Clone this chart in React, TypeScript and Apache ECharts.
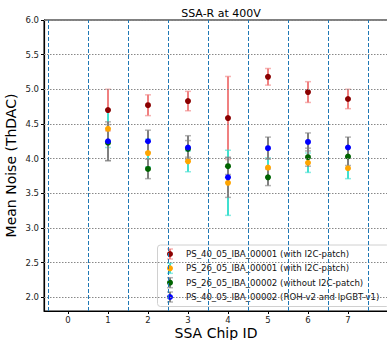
import React, { useEffect, useRef } from "react";
import * as echarts from "echarts";

const chips = [1, 2, 3, 4, 5, 6, 7];
const seriesNames = [
  "PS_40_05_IBA_00001 (with I2C-patch)",
  "PS_26_05_IBA_00001 (with I2C-patch)",
  "PS_26_05_IBA_00002 (without I2C-patch)",
  "PS_40_05_IBA_00002 (ROH-v2 and lpGBT-v1)",
];
const mean40_1 = [4.70, 4.77, 4.83, 4.585, 5.18, 4.96, 4.86];
const err40_1 = [0.30, 0.15, 0.14, 0.6, 0.12, 0.15, 0.14];
const mean26_1 = [4.43, 4.08, 3.96, 3.65, 3.87, 3.94, 3.86];
const err26_1 = [0.27, 0.2, 0.15, 0.47, 0.14, 0.14, 0.15];
const mean26_2 = [4.23, 3.85, 4.14, 3.89, 3.73, 4.02, 4.03];
const err26_2 = [0.26, 0.14, 0.12, 0.12, 0.12, 0.13, 0.13];
const mean40_2 = [4.25, 4.25, 4.16, 3.73, 4.15, 4.24, 4.16];
const err40_2 = [0.28, 0.16, 0.17, 0.29, 0.16, 0.13, 0.15];
const markerColors = ["#8b0000", "#ffa500", "#006400", "#0000ff"];
const errColors = ["#f08080", "#40e0d0", "#808080", "#808080"];
const yTicks = [2.0, 2.5, 3.0, 3.5, 4.0, 4.5, 5.0, 5.5, 6.0];
const xTicks = [0, 1, 2, 3, 4, 5, 6, 7];
const xDividers = [-0.5, 0.5, 1.5, 2.5, 3.5, 4.5, 5.5, 6.5, 7.5];

const FONT = "DejaVu Sans";

export default function App() {
  const ref = useRef<HTMLDivElement>(null);
  useEffect(() => {
    const chart = echarts.init(ref.current!, null, { renderer: "svg" });
    const means = [mean40_1, mean26_1, mean26_2, mean40_2];
    const errs = [err40_1, err26_1, err26_2, err40_2];
    const series: any[] = [
      {
        type: "line",
        data: [],
        silent: true,
        markLine: {
          silent: true,
          symbol: "none",
          label: { show: false },
          animation: false,
          data: [
            ...yTicks.map((v) => ({
              yAxis: v,
              lineStyle: { color: "#888", type: [1.5, 1.5], width: 1 },
            })),
            ...xDividers.map((v) => ({
              xAxis: v,
              lineStyle: { color: "#1f77b4", type: [4, 2], width: 1 },
            })),
          ],
        },
      },
    ];
    means.forEach((m, si) => {
      series.push({
        type: "custom",
        name: seriesNames[si] + " err",
        data: chips.map((c, i) => [c, m[i], errs[si][i]]),
        renderItem: (params: any, api: any) => {
          const x = api.value(0);
          const y = api.value(1);
          const e = api.value(2);
          const top = api.coord([x, y + e]);
          const bot = api.coord([x, y - e]);
          const col = errColors[si];
          return {
            type: "group",
            children: [
              {
                type: "line",
                shape: { x1: top[0], y1: top[1], x2: bot[0], y2: bot[1] },
                style: { stroke: col, lineWidth: 2 },
              },
              {
                type: "line",
                shape: { x1: top[0] - 3, y1: top[1], x2: top[0] + 3, y2: top[1] },
                style: { stroke: col, lineWidth: 1.5, opacity: 0.6 },
              },
              {
                type: "line",
                shape: { x1: bot[0] - 3, y1: bot[1], x2: bot[0] + 3, y2: bot[1] },
                style: { stroke: col, lineWidth: 1.5, opacity: 0.6 },
              },
            ],
          };
        },
      });
      series.push({
        type: "scatter",
        name: seriesNames[si],
        data: chips.map((c, i) => [c, m[i]]),
        symbol: "circle",
        symbolSize: 6,
        itemStyle: { color: markerColors[si], opacity: 1 },
      });
    });

    const legendChildren: any[] = [
      {
        type: "rect",
        shape: { x: 157.5, y: 245, width: 232, height: 61.5, r: 3 },
        style: { fill: "rgba(255,255,255,0.85)", stroke: "#d0d0d0", lineWidth: 1 },
      },
    ];
    const legendY = [254, 268.3, 282.7, 297];
    seriesNames.forEach((n, i) => {
      const y = legendY[i];
      const col = errColors[i];
      legendChildren.push(
        { type: "line", shape: { x1: 170, y1: y - 5, x2: 170, y2: y + 5 }, style: { stroke: col, lineWidth: 2 } },
        { type: "line", shape: { x1: 167, y1: y - 5, x2: 173, y2: y - 5 }, style: { stroke: col, lineWidth: 1.5, opacity: 0.6 } },
        { type: "line", shape: { x1: 167, y1: y + 5, x2: 173, y2: y + 5 }, style: { stroke: col, lineWidth: 1.5, opacity: 0.6 } },
        { type: "circle", shape: { cx: 170, cy: y, r: 3 }, style: { fill: markerColors[i] } },
        {
          type: "text",
          x: 186,
          y: y,
          style: { text: n, font: `8.6px ${FONT}`, fill: "#111", verticalAlign: "middle" },
        }
      );
    });

    chart.setOption({
      animation: false,
      textStyle: { fontFamily: FONT },
      title: {
        text: "SSA-R at 400V",
        left: 216,
        textAlign: "center",
        top: 3,
        textStyle: { fontFamily: FONT, fontSize: 11, fontWeight: "normal", color: "#000" },
      },
      grid: {
        left: 44,
        top: 20,
        width: 344,
        height: 291,
        show: true,
        borderColor: "#000",
        borderWidth: 1,
        backgroundColor: "transparent",
        containLabel: false,
        outerBoundsMode: "none",
      },
      xAxis: {
        type: "value",
        min: -0.6,
        max: 8.0,
        name: "SSA Chip ID",
        nameLocation: "middle",
        nameGap: 15,
        nameMoveOverlap: false,
        nameTextStyle: { fontFamily: FONT, fontSize: 14, color: "#000" },
        axisLine: { show: true, onZero: false, lineStyle: { color: "#000", width: 1.2 } },
        axisTick: { show: true, length: 3, customValues: xTicks, lineStyle: { color: "#000" } },
        axisLabel: {
          customValues: xTicks,
          fontFamily: FONT,
          fontSize: 8.5,
          color: "#222",
          margin: 4,
          formatter: (v: number) => String(v),
        },
        splitLine: { show: false },
      },
      yAxis: {
        type: "value",
        min: 1.8,
        max: 6.0,
        name: "Mean Noise (ThDAC)",
        nameLocation: "middle",
        nameGap: 26,
        nameMoveOverlap: false,
        nameTextStyle: { fontFamily: FONT, fontSize: 14, color: "#000" },
        axisLine: { show: true, onZero: false, lineStyle: { color: "#000", width: 1.2 } },
        axisTick: { show: true, length: 3, customValues: yTicks, lineStyle: { color: "#000" } },
        axisLabel: {
          customValues: yTicks,
          fontFamily: FONT,
          fontSize: 8.5,
          color: "#222",
          margin: 5,
          formatter: (v: number) => v.toFixed(1),
        },
        splitLine: { show: false },
      },
      series,
      graphic: [{ type: "group", z: 100, children: legendChildren }],
    });
    return () => chart.dispose();
  }, []);
  return (
    <div
      ref={ref}
      style={{ position: "fixed", left: 0, top: 0, width: 387, height: 340, background: "#fff" }}
    />
  );
}
